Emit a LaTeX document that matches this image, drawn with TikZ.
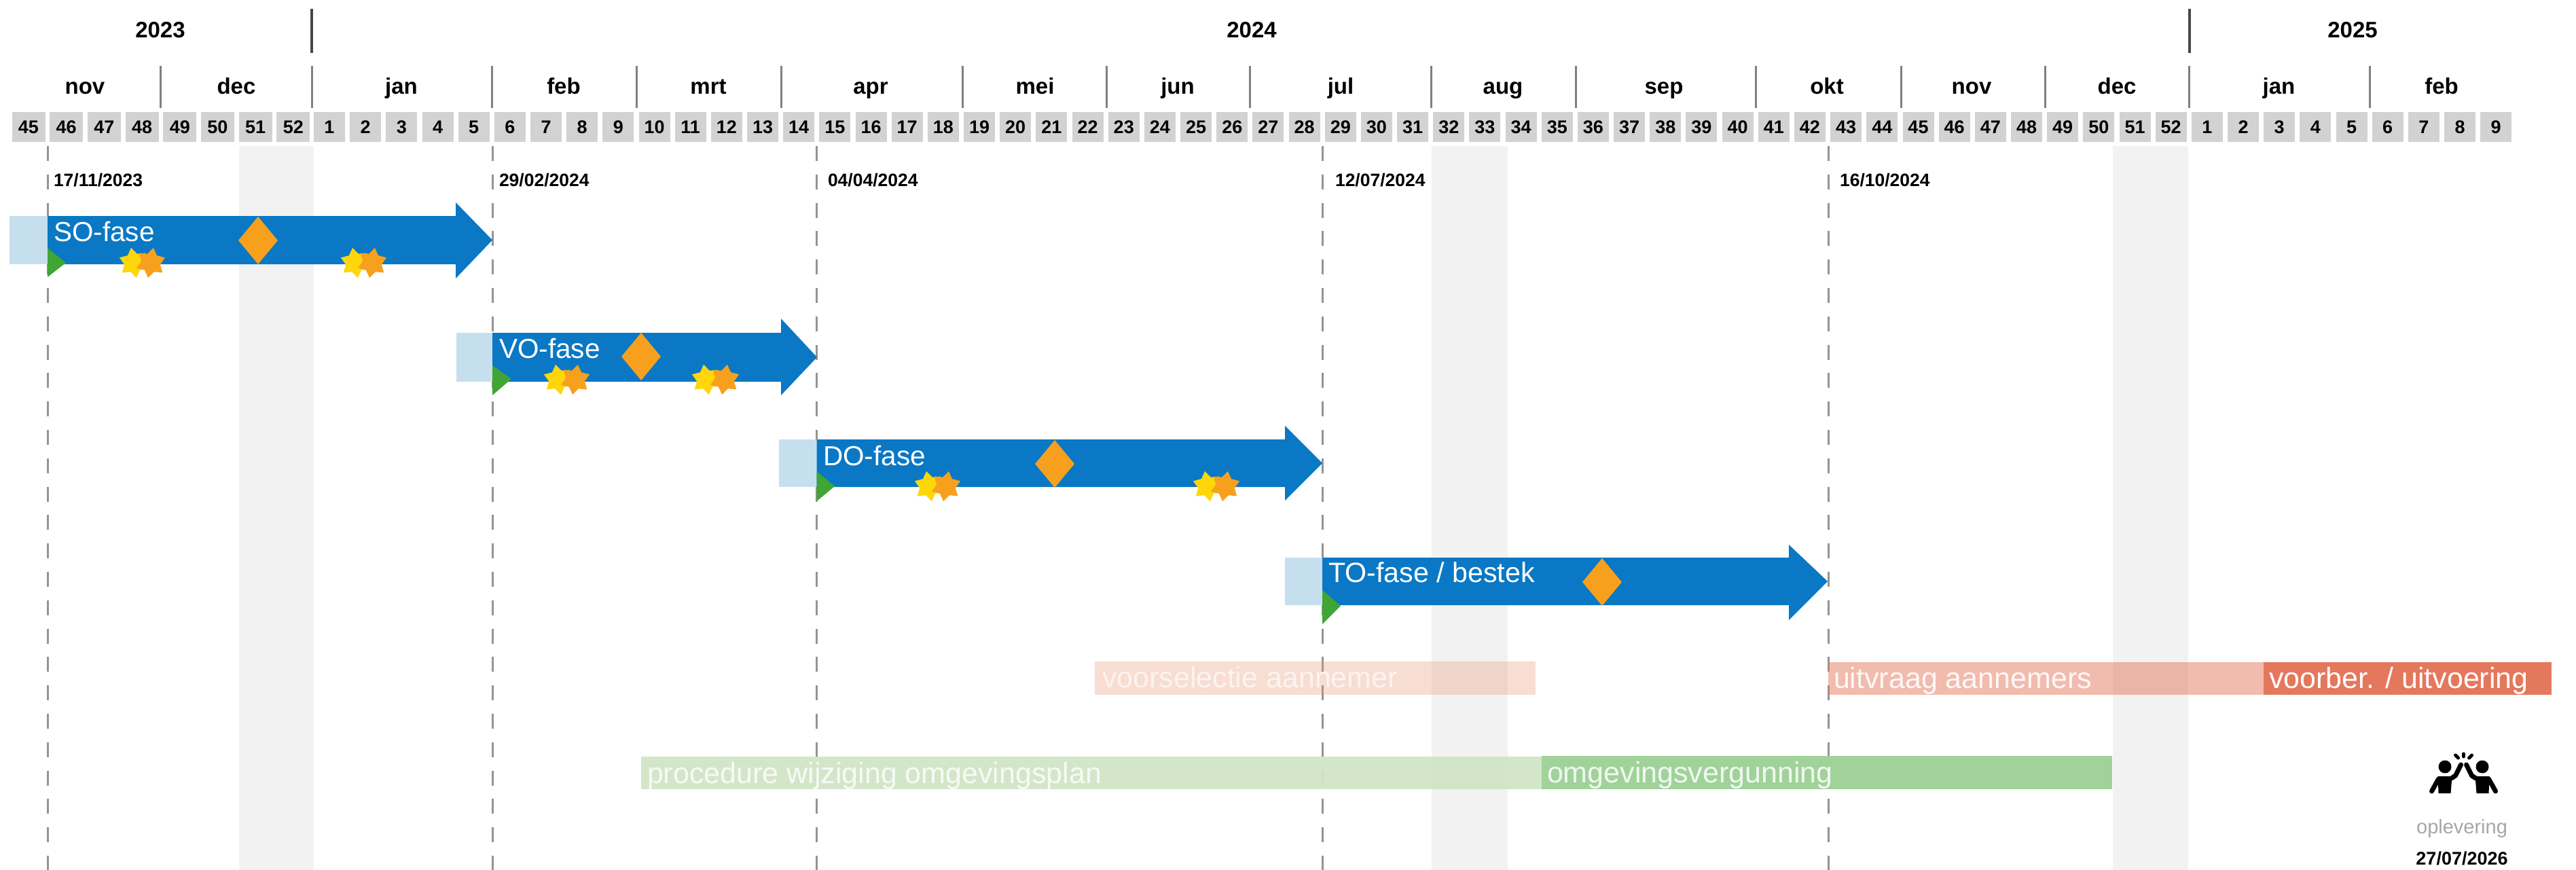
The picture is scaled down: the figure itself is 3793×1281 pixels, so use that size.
\documentclass[tikz,border=0pt]{standalone}
\usepackage{fontspec}
\setmainfont{Liberation Sans}
\usetikzlibrary{shapes.geometric}
\definecolor{weekgrey}{HTML}{D2D2D2}
\definecolor{bandgrey}{HTML}{F2F2F2}
\definecolor{fablue}{HTML}{0A78C4}
\definecolor{falight}{HTML}{C6DFEF}
\definecolor{fagreen}{HTML}{3FA535}
\definecolor{faorange}{HTML}{F7A01E}
\definecolor{fayellow}{HTML}{FFD60A}
\definecolor{barred}{HTML}{E4785C}
\definecolor{barpeach}{HTML}{E8906C}
\definecolor{bargreen}{HTML}{A0D29A}
\definecolor{barlight}{HTML}{D2E5C6}
\tikzset{
  lbl/.style={inner sep=0pt,outer sep=0pt,anchor=base},
  lblw/.style={inner sep=0pt,outer sep=0pt,anchor=base west},
  yearlbl/.style={lbl,font=\fontsize{33}{36}\selectfont\bfseries},
  monthlbl/.style={lbl,font=\fontsize{33}{36}\selectfont\bfseries},
  weeklbl/.style={lbl,font=\fontsize{27}{30}\selectfont\bfseries},
  datelbl/.style={lblw,font=\fontsize{26.5}{30}\selectfont\bfseries},
  faselbl/.style={lblw,text=white,font=\fontsize{40.5}{44}\selectfont},
  barlbl/.style={lblw,font=\fontsize{43}{46}\selectfont},
  yeartick/.style={draw=black!72,line width=4pt},
  monthtick/.style={draw=black!50,line width=3pt},
  milestone/.style={draw=black!42,line width=3pt,dash pattern=on 22pt off 19.8pt},
  sterpunt/.style={star,star points=6,star point ratio=1.6,minimum size=45pt,inner sep=0pt,outer sep=0pt,draw=none},
}
% light start, start, head x, tip, bar top, bar bottom, head top, head bottom
\newcommand{\fasepijl}[8]{%
  \fill[falight] (#1,#5) rectangle (#2,#6);
  \fill[fablue] (#2,#5) -- (#3,#5) -- (#3,#7) -- (#4,{(#5+#6)/2}) -- (#3,#8) -- (#3,#6) -- (#2,#6) -- cycle;
}
\newcommand{\startpijl}[5]{\fill[fagreen] (#1,#3) -- (#2,#4) -- (#1,#5) -- cycle;}
\newcommand{\sterren}[4]{%
  \node[sterpunt,fill=fayellow,shape border rotate=10] (#4a) at (#1,#3) {};
  \node[sterpunt,fill=faorange,shape border rotate=-10] (#4b) at (#2,#3) {};
}
\begin{document}
\begin{tikzpicture}[x=1pt,y=-1pt]
\useasboundingbox (0,0) rectangle (3793,1281);
% holiday bands
\fill[bandgrey] (352,215) rectangle (462,1281);
\fill[bandgrey] (2108,215) rectangle (2220,1281);
\fill[bandgrey] (3111,215) rectangle (3222,1281);
% years
\node[yearlbl] (y23) at (236,56) {2023};
\node[yearlbl] (y24) at (1843,56) {2024};
\node[yearlbl] (y25) at (3464,56) {2025};
\foreach \x in {459,3223.5} \draw[yeartick] (\x,13) -- (\x,78);
% months
\foreach \x in {236,459,724.5,937.5,1150.5,1417,1629,1840,2107,2320,2585,2799,3011,3223.5,3489}
  \draw[monthtick] (\x,97) -- (\x,159);
\foreach \x/\t/\n in {125/nov/m1,348/dec/m2,591/jan/m3,830/feb/m4,1043/mrt/m5,1282/apr/m6,1524/mei/m7,1734/jun/m8,1974/jul/m9,2213/aug/m10,2450/sep/m11,2690/okt/m12,2903/nov/m13,3117/dec/m14,3355.5/jan/m15,3595/feb/m16}
  \node[monthlbl] (\n) at (\x,139) {\t};
% weeks 2023
\foreach \w [count=\i from 0] in {45,...,52} {
  \pgfmathsetmacro{\cx}{42+55.7*\i}
  \fill[weekgrey] (\cx-24.5,165) rectangle (\cx+24.5,209);
  \node[weeklbl] (wa\w) at (\cx,197) {\w};
}
% weeks 2024 and 2025
\foreach \w [count=\i from 0] in {1,...,52} {
  \pgfmathsetmacro{\cx}{485+53.17*\i}
  \fill[weekgrey] (\cx-23,165) rectangle (\cx+23,209);
  \node[weeklbl] (wb\w) at (\cx,197) {\w};
}
\foreach \w [count=\i from 52] in {1,...,9} {
  \pgfmathsetmacro{\cx}{485+53.17*\i}
  \fill[weekgrey] (\cx-23,165) rectangle (\cx+23,209);
  \node[weeklbl] (wc\w) at (\cx,197) {\w};
}
% milestone lines
\foreach \x/\n in {70/a,725/b,1202.5/c,1947.5/d,2692/e} {
  \coordinate (top\n) at (\x,215);
  \coordinate (bot\n) at (\x,1281);
  \draw[milestone] (top\n) -- (bot\n);
}
\node[datelbl] (d1) at (79,275) {17/11/2023};
\node[datelbl] (d2) at (735,275) {29/02/2024};
\node[datelbl] (d3) at (1219,275) {04/04/2024};
\node[datelbl] (d4) at (1966,275) {12/07/2024};
\node[datelbl] (d5) at (2709,275) {16/10/2024};
% phase arrows
\fasepijl{14}{70}{671}{725}{318}{389}{298}{410}
\fasepijl{672}{725}{1150}{1203}{490}{562}{469}{582}
\fasepijl{1147}{1202.5}{1892}{1947}{647}{717}{627}{737}
\fasepijl{1892}{1947}{2634}{2691}{821}{891}{802}{913}
\node[faselbl] (so) at (79,355) {SO-fase};
\node[faselbl] (vo) at (735,527) {VO-fase};
\node[faselbl] (do) at (1212,685) {DO-fase};
\node[faselbl,font=\fontsize{41.2}{44}\selectfont] (to) at (1956,857) {TO-fase / bestek};
% diamonds
\foreach \x/\y/\n in {380/354/ra,944/525/rb,1553/683/rc,2359/857/rd}
  \fill[faorange] (\x-29,\y) coordinate (\n) -- (\x,\y-35) -- (\x+29,\y) -- (\x,\y+35) -- cycle;
% start triangles
\startpijl{70}{97}{365}{387}{408}
\startpijl{725}{753}{538}{558}{582}
\startpijl{1202.5}{1229}{694}{716}{738}
\startpijl{1947}{1974}{869}{892}{919}
% stars
\sterren{197}{222}{387}{sa}
\sterren{523}{548}{387}{sb}
\sterren{822}{847}{559}{sc}
\sterren{1040}{1067}{559}{sd}
\sterren{1368}{1393}{716}{se}
\sterren{1778}{1804}{716}{sf}
% tender bars
\fill[barpeach,opacity=.3] (1612,974) rectangle (2261,1023);
\fill[barred,opacity=.5] (2692,975) rectangle (3333,1023);
\fill[barred] (3333,975) rectangle (3757,1023);
\node[barlbl,text=white,opacity=.65] (vs) at (1623,1012) {voorselectie aannemer};
\node[barlbl,text=white,opacity=.9] (uv) at (2700,1013) {uitvraag aannemers};
\node[barlbl,text=white] (vu) at (3341,1013) {voorber. / uitvoering};
% permit bars
\fill[barlight,opacity=.95] (944,1114) rectangle (2270,1162);
\fill[bargreen] (2270,1113) rectangle (3110,1162);
\node[barlbl,text=white,opacity=.8] (pw) at (953,1153) {procedure wijziging omgevingsplan};
\node[barlbl,text=white,opacity=.85] (og) at (2278,1152) {omgevingsvergunning};
% hand-over icon
\foreach \m in {1,-1} {
  \begin{scope}[xshift=3627.5pt,xscale=\m]
    \fill[black] (-27.5,1129) circle (9.5);
    \fill[black] (-38,1143) -- (-17,1143) -- (-19,1168) -- (-37,1168) -- cycle;
    \draw[black,line width=7pt,line cap=round] (-37,1147) -- (-47,1165);
    \draw[black,line width=7pt,line cap=round,line join=round] (-18,1146) -- (-12,1142) -- (-4,1126);
    \draw[black,line width=5pt,line cap=round] (-12,1112) -- (-8,1116);
  \end{scope}
}
\draw[black,line width=5pt,line cap=round] (3627.5,1110) -- (3627.5,1114);
\node[lbl,text=black!35,font=\fontsize{29}{32}\selectfont] (opl) at (3625,1227) {oplevering};
\node[lbl,font=\fontsize{27}{30}\selectfont\bfseries] (opd) at (3625,1273) {27/07/2026};
\end{tikzpicture}
\end{document}
